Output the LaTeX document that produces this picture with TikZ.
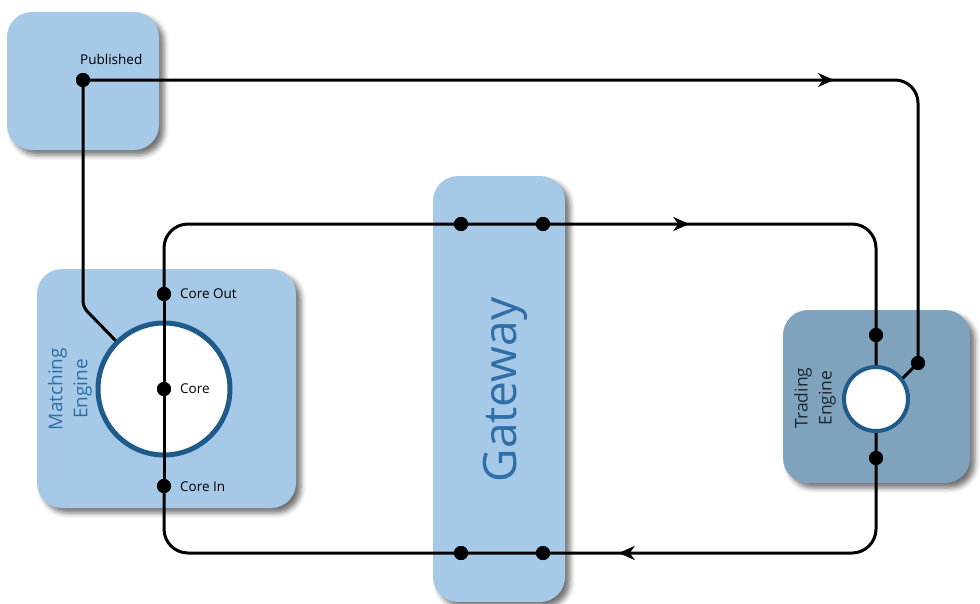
\documentclass[tikz,border=0pt]{standalone}
\usepackage{fontspec}
\setmainfont{Open Sans}
\usetikzlibrary{shadows.blur,arrows.meta,decorations.markings}
\definecolor{boxblue}{HTML}{A5C9E6}
\definecolor{tradeblue}{HTML}{80A3BD}
\definecolor{ringblue}{HTML}{1E5A8A}
\definecolor{textblue}{HTML}{2F6EA6}
\definecolor{tradetext}{HTML}{1C2730}
\begin{document}
\begin{tikzpicture}[x=1pt,y=-1pt,
  boxnode/.style={rectangle, fill=boxblue, rounded corners=25pt, inner sep=0pt,
    blur shadow={shadow xshift=5pt, shadow yshift=-5pt, shadow blur radius=5pt, shadow opacity=55}},
  ring/.style={circle, draw=ringblue, fill=white, inner sep=0pt},
  dotnode/.style={circle, fill=black, inner sep=0pt, minimum size=14pt},
  wire/.style={line width=3pt, black},
  midtip/.style={postaction={decorate, decoration={markings,
     mark=at position #1 with {\arrow{Stealth[length=16pt,width=14pt,inset=5pt]}}}}},
  lbl/.style={font=\fontsize{13.5}{15}\selectfont, anchor=west, inner sep=0pt}
]
\useasboundingbox (0,0) rectangle (980,603);
% boxes
\node[boxnode, minimum width=152pt, minimum height=138pt] (pubbox) at (83,81) {};
\node[boxnode, minimum width=259pt, minimum height=239pt] (mebox) at (166.5,388.5) {};
\node[boxnode, minimum width=132pt, minimum height=426pt] (gwbox) at (499,389) {};
\node[boxnode, fill=tradeblue, minimum width=187pt, minimum height=173pt] (tebox) at (876.5,396.5) {};
% rings
\node[ring, line width=5pt, minimum size=132pt] (mcirc) at (164,389) {};
\node[ring, line width=4pt, minimum size=64pt] (tcirc) at (876,399) {};
% texts
\node[rotate=90, text=textblue, align=center, font=\fontsize{19}{25}\selectfont] (metext) at (70,389) {Matching\\Engine};
\node[rotate=90, text=tradetext, align=center, font=\fontsize{17.5}{24}\selectfont] (tetext) at (815,398) {Trading\\Engine};
\node[rotate=90, text=textblue, font=\fontsize{46}{50}\selectfont] (gwtext) at (505,390) {Gateway};
% dots
\node[dotnode] (pub) at (83,80) {};
\node[dotnode] (coreout) at (164,294) {};
\node[dotnode] (core) at (164,389) {};
\node[dotnode] (corein) at (164,486) {};
\node[dotnode] (gwtl) at (461,224) {};
\node[dotnode] (gwtr) at (543,224) {};
\node[dotnode] (gwbl) at (461,553) {};
\node[dotnode] (gwbr) at (543,553) {};
\node[dotnode] (tin) at (876,335) {};
\node[dotnode] (tout) at (876,458) {};
\node[dotnode] (tpub) at (918,363) {};
% labels
\node[lbl] (publbl) at (80,59) {Published};
\node[lbl] (colbl) at (180,294) {Core Out};
\node[lbl] (clbl) at (180,389) {Core};
\node[lbl] (cilbl) at (180,487) {Core In};
% wires
\draw[wire, rounded corners=23pt, midtip=751pt] (pub.center) -- (918,80) -- (tpub.center);
\draw[wire] (tpub.center) -- (tcirc.38);
\draw[wire, rounded corners=6pt] (pub.center) -- (83,307) -- (mcirc.135);
\draw[wire, rounded corners=24pt, midtip=585pt] (coreout.center) -- (164,224) -- (876,224) -- (tcirc.north);
\draw[wire, rounded corners=24pt, midtip=367pt] (tcirc.south) -- (876,553) -- (164,553) -- (corein.center);
\draw[wire] (corein.center) -- (core.center) -- (coreout.center);
% redraw dots on top
\foreach \d in {pub,coreout,core,corein,gwtl,gwtr,gwbl,gwbr,tin,tout,tpub}
  \fill (\d) circle (7pt);
\end{tikzpicture}
\end{document}
